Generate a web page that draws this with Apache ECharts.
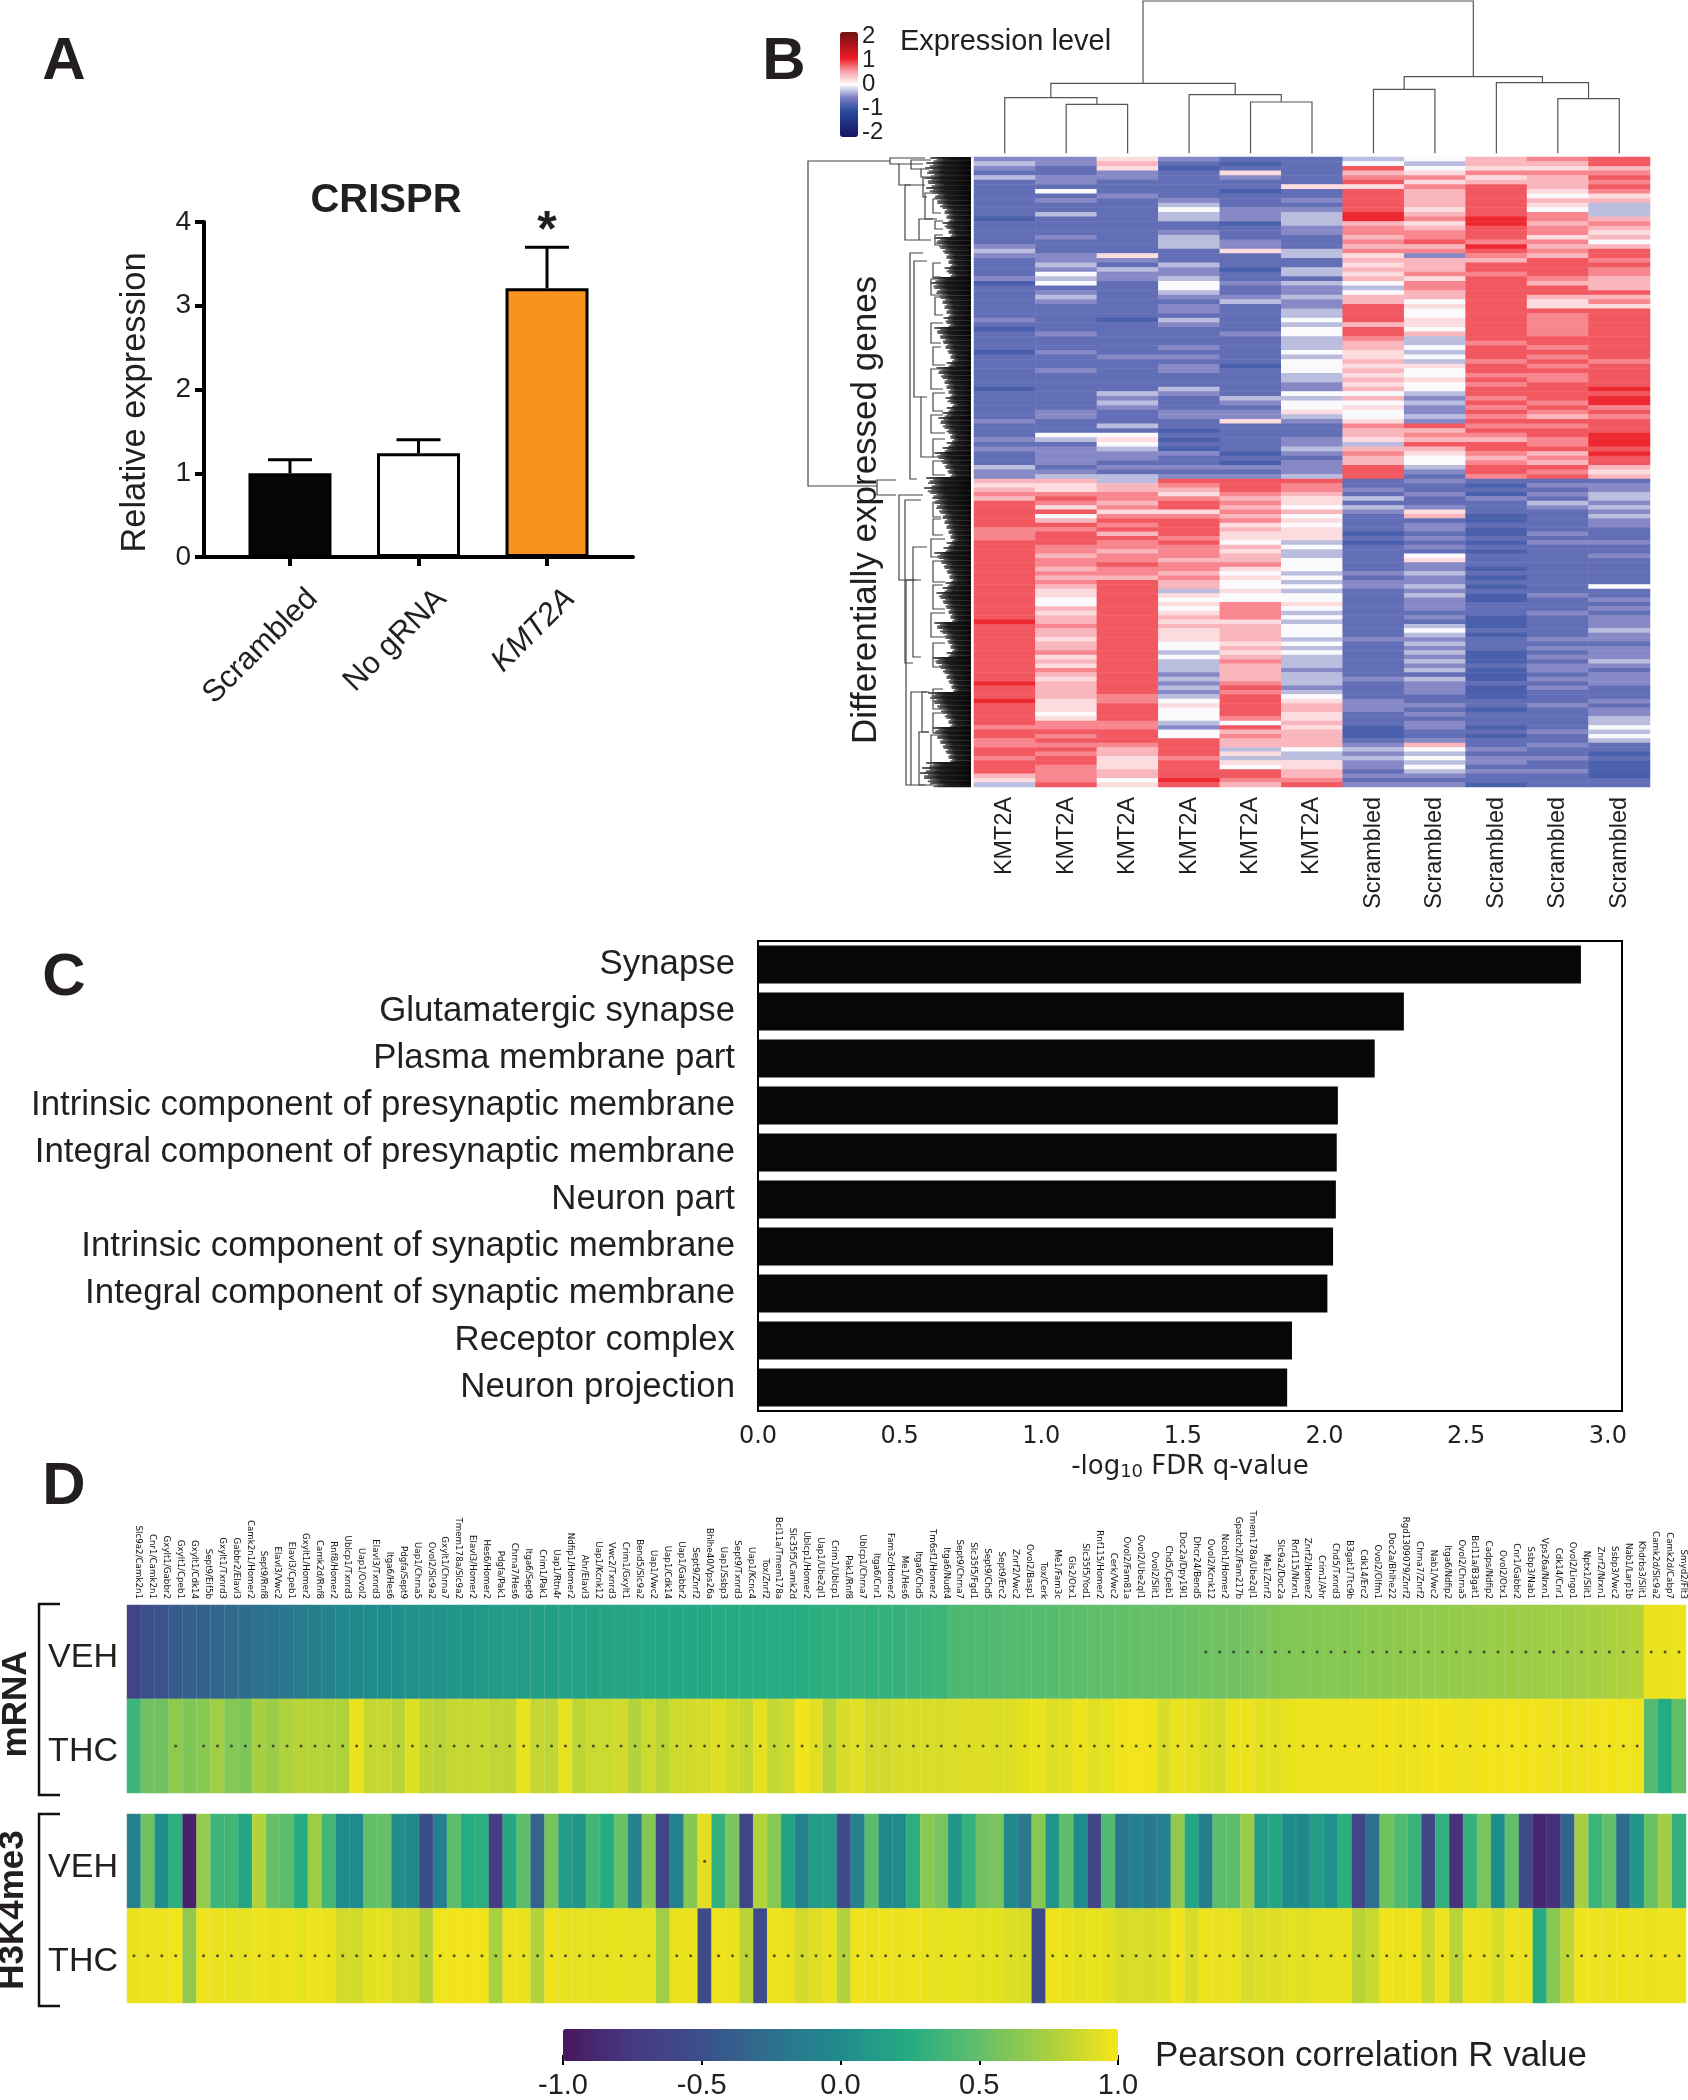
<!DOCTYPE html>
<html><head><meta charset="utf-8">
<style>html,body{margin:0;padding:0;background:#fff}#c{width:1688px;height:2100px}</style>
<script src="https://cdn.jsdelivr.net/npm/echarts@6/dist/echarts.min.js"></script>
</head><body><div id="c"></div>
<script>
// ---------- Panel A
const crisprGroups = ['Scrambled', 'No gRNA', 'KMT2A'];
const crisprValues = [1.0, 1.24, 3.21];
const crisprErrorTop = [1.16, 1.40, 3.70];
const crisprColors = ['#040608', '#ffffff', '#F7931E'];

// ---------- Panel B : one digit per row, 0 (deep blue) .. 9 (deep red)
const digitLevels = [-0.88, -0.72, -0.5, -0.28, -0.02, 0.2, 0.42, 0.66, 0.85, 1.05];
const sampleLabels = ['KMT2A','KMT2A','KMT2A','KMT2A','KMT2A','KMT2A','Scrambled','Scrambled','Scrambled','Scrambled','Scrambled'];
const upperCluster = [
 '2321311111 1110111112 3211112011 1111121011 1101111111 0111111211 1212111322',
 '2211221412 1131111211 1223243412 3211111121 1121112111 1111122111 4312222123',
 '5652211121 1111111111 1521322111 1111101111 1112111111 1323211131 4543221213',
 '2101111112 3433112333 1113223443 2122132111 1212122111 3211122110 1010211212',
 '1015211011 1222011122 5111011211 2311111121 1111101111 1132122511 1111010212',
 '1111115112 1233322111 3311331322 3223343443 3343444332 2434453211 1223212223',
 '3486785888 8899677676 7565656434 6688886887 6655656565 6464544576 6536766888',
 '4345757666 6567567786 7266675776 6454455463 3434354454 4323223286 7686544321',
 '6657568888 8889988879 8768878888 8888888888 7888788787 8878787878 7688767887',
 '7657666546 5477677576 7688887688 6558777778 8787878778 8887876878 8778676878',
 '8867878756 3336765646 8878776668 6758888888 8888788888 9899787888 9998988656'];
const lowerCluster = [
 '6567688888 8777888888 8888888888 8898888888 8888889888 9888887887 7887888653',
 '6557875846 8788877677 6767655446 5667665667 5657656666 5554577878 7878877778',
 '3667767578 7868776778 7768888888 8888888888 8888888887 7888877888 7665556645',
 '8765788578 8887877767 7676635454 5656555443 4333232323 4544432448 8887888898',
 '8887676767 5655465667 5454454477 7756666565 6766667878 8888748676 6353548876',
 '8776554645 4555343344 4343434454 3434443434 3332333234 5665565666 6433556678',
 '1121313211 1101011111 1212211111 1111112111 1111121111 2221110001 2323221212',
 '2112112561 2212121452 2322323222 1213432323 2323132221 1212122112 6434343212',
 '1010211100 1001010111 0101010011 1000101110 0010001000 1101110101 1212212110',
 '1212132111 1121211111 1111112111 2111112121 2122121211 1211111211 2112112111',
 '1223323232 2111211211 1111411212 1222322122 2321222111 2122334343 1101000011'];
// column dendrogram: [leftLeaf, rightLeaf, leftHeight, rightHeight, joinHeight]
const columnLinks = [[1,2,0,0,147],[0,1.5,0,147,167],[4,5,0,0,154],[3,4.5,0,154,176],[0.75,3.75,167,176,210],
 [6,7,0,0,192],[9,10,0,0,164],[8,9.5,0,164,212],[6.5,8.75,192,212,230],[2.25,7.625,210,230,457]];
// row dendrogram: [topRow, bottomRow, topHeight, bottomHeight, joinHeight]
const rowLinks = [[4,329,81,94,163],[323,338,75,75,94],[1,7,46,72,81],[7,28,48,60,72],[3,12,40,50,60],[12,20,42,48,50],
 [20,40,38,44,48],[28,83,46,52,66],[36,62,32,38,46],[62,83,34,40,52],[96,322,48,54,61],[104,240,44,50,57],[240,300,44,38,50],
 [42,56,30,30,38],[64,72,28,28,36],[78,88,28,30,36],[106,120,30,30,38],[122,138,30,28,40],[140,158,26,28,36],[166,186,28,30,40],
 [190,208,30,26,38],[212,232,28,28,40],[236,254,26,28,38],[258,276,28,26,40],[282,300,26,26,38],[304,318,28,26,38],
 [338,423,48,56,72],[343,506,50,58,66],[423,628,50,60,65],[390,500,44,50,58],[535,628,44,46,60],[535,575,42,42,49],[575,628,42,40,52],
 [345,360,28,30,38],[362,378,30,28,38],[382,400,26,28,40],[404,425,26,26,38],[428,452,28,26,38],[456,480,26,26,40],[486,510,26,26,38],
 [532,552,28,26,38],[556,576,26,26,38],[578,610,26,28,40],[612,628,30,30,40]];
const leafDepths = [40,44,45,43,46,42,44,38,36,33,28,26,24,28,24,22,36,34,30,26,24,22,26,22,38,40,36,34,30,28,26,24,27,24,
 36,33,30,27,25,22,20,24,34,32,28,26,24,22,25,20,24,28,32,30,26,22,20,24,28,36,32,28,25,22,
 44,42,46,40,38,36,34,30,28,26,24,22,20,24,27,36,32,29,26,23,21,25,28,34,30,27,24,22,20,36,33,28,25,22,20,24,
 38,34,30,26,24,21,19,42,40,36,32,28,24,22,38,36,33,30,27,24,22,44,48,50,46,40];
const expressionTicks = [-2,-1,0,1,2];

// ---------- Panel C
const goTerms = ['Synapse','Glutamatergic synapse','Plasma membrane part','Intrinsic component of presynaptic membrane',
 'Integral component of presynaptic membrane','Neuron part','Intrinsic component of synaptic membrane',
 'Integral component of synaptic membrane','Receptor complex','Neuron projection'];
const goValues = [2.905,2.28,2.177,2.047,2.043,2.04,2.03,2.01,1.885,1.868];
const goTicks = [0,0.5,1,1.5,2,2.5,3];

// ---------- Panel D
const genePairs = ['Slc9a2/Camk2n1','Cnr1/Camk2n1','Gxylt1/Gabbr2','Gxylt1/Cpeb1','Gxylt1/Cdk14','Sept9/Eif5b','Gxylt1/Txnrd3','Gabbr2/Elavl3','Camk2n1/Homer2','Sept9/Rnf8',
 'Elavl3/Vwc2','Elavl3/Cpeb1','Gxylt1/Homer2','Camk2d/Rnf8','Rnf8/Homer2','Ublcp1/Txnrd3','Uap1/Ovol2','Elavl3/Txnrd3','Itga6/Hes6','Pdgfa/Sept9',
 'Uap1/Chrna5','Ovol2/Slc9a2','Gxylt1/Chrna7','Tmem178a/Slc9a2','Elavl3/Homer2','Hes6/Homer2','Pdgfa/Pak1','Chrna7/Hes6','Itga6/Sept9','Crim1/Pak1',
 'Uap1/Rtn4r','Ndfip1/Homer2','Ahr/Elavl3','Uap1/Kcnk12','Vwc2/Txnrd3','Crim1/Gxylt1','Bend5/Slc9a2','Uap1/Vwc2','Uap1/Cdk14','Uap1/Gabbr2',
 'Sept9/Znrf2','Bhlhe40/Vps26a','Uap1/Ssbp3','Sept9/Txnrd3','Uap1/Kcnc4','Tox/Znrf2','Bcl11a/Tmem178a','Slc35f5/Camk2d','Ublcp1/Homer2','Uap1/Ube2ql1',
 'Crim1/Ublcp1','Pak1/Rnf8','Ublcp1/Chrna7','Itga6/Cnr1','Fam3c/Homer2','Me1/Hes6','Itga6/Chd5','Tm6sf1/Homer2','Itga6/Nudt4','Sept9/Chrna7',
 'Slc35f5/Fgd1','Sept9/Chd5','Sept9/Erc2','Znrf2/Vwc2','Ovol2/Basp1','Tox/Cerk','Me1/Fam3c','Gls2/Otx1','Slc35f5/Yod1','Rnf115/Homer2',
 'Cerk/Vwc2','Ovol2/Fam81a','Ovol2/Ube2ql1','Ovol2/Slit1','Chd5/Cpeb1','Doc2a/Dpy19l1','Dhcr24/Bend5','Ovol2/Kcnk12','Ncoh1/Homer2','Gpatch2l/Fam217b',
 'Tmem178a/Ube2ql1','Me1/Znrf2','Slc9a2/Doc2a','Rnf115/Nrxn1','Znrf2/Homer2','Crim1/Ahr','Chd5/Txnrd3','B3gat1/Ttc9b','Cdk14/Erc2','Ovol2/Olfm1',
 'Doc2a/Bhlhe22','Rgd1309079/Znrf2','Chrna7/Znrf2','Nab1/Vwc2','Itga6/Ndfip2','Ovol2/Chrna5','Bcl11a/B3gat1','Cadps/Ndfip2','Ovol2/Otx1','Cnr1/Gabbr2',
 'Ssbp3/Nab1','Vps26a/Nrxn1','Cdk14/Cnr1','Ovol2/Lingo1','Nptx1/Slit1','Znrf2/Nrxn1','Ssbp3/Vwc2','Nab1/Larp1b','Khdrbs3/Slit1','Camk2d/Slc9a2',
 'Camk2d/Cabp7','Smyd2/Flt3'];
const conditions = ['VEH','THC'];
const mrnaVeh = [-.63,-.5,-.46,-.41,-.38,-.36,-.33,-.3,-.28,-.24,
 -.22,-.19,-.16,-.12,-.07,-.04,-.02,0,.01,.03,
 .04,.05,.06,.08,.09,.1,.11,.12,.13,.14,
 .15,.16,.17,.18,.19,.19,.2,.2,.21,.21,
 .22,.22,.23,.23,.24,.24,.25,.25,.26,.27,
 .28,.29,.3,.3,.31,.32,.33,.34,.35,.41,
 .42,.42,.43,.44,.45,.45,.46,.47,.48,.49,
 .5,.5,.51,.51,.52,.52,.53,.54,.55,.55,
 .56,.58,.6,.61,.62,.62,.63,.63,.64,.65,
 .65,.66,.66,.67,.67,.68,.68,.69,.69,.7,
 .7,.71,.72,.72,.73,.74,.75,.76,.78,.96,
 .96,.97];
const mrnaThc = [.35,.55,.55,.66,.6,.64,.72,.62,.6,.74,
 .7,.77,.8,.79,.78,.77,.96,.84,.84,.8,
 .92,.82,.8,.84,.84,.85,.82,.82,.96,.84,
 .82,.95,.82,.86,.86,.88,.78,.86,.8,.87,
 .88,.89,.92,.88,.84,.94,.83,.87,.98,.93,
 .8,.9,.93,.88,.88,.9,.9,.9,.9,.91,
 .92,.92,.91,.92,.94,.96,.92,.93,.97,.93,
 .95,.98,.98,.98,.9,.96,.95,.92,.9,.96,
 .97,.94,.94,.96,.97,.97,.97,.97,.97,.97,
 .98,.97,.97,.98,.98,.97,.97,.98,.98,.98,
 .98,.98,.97,.97,.97,.98,.98,.98,.97,.44,
 .24,.5];
const h3Veh = [-.1,.55,.02,.28,-.92,.68,.35,.37,.2,.78,
 .52,.47,.24,.7,.38,0,0,.5,.52,.03,
 -.02,-.52,-.1,.48,.25,.28,-.72,.22,.48,-.35,
 .57,.12,.08,.38,.25,.52,-.08,.62,-.62,-.1,
 .62,.93,.3,.58,-.62,.78,.63,.18,-.08,.12,
 .12,-.55,-.08,.47,-.02,0,.28,.65,.58,.08,
 .32,.55,.58,-.02,-.18,.63,.06,.48,0,-.6,
 .43,-.2,-.08,-.18,-.08,.66,.2,-.12,.47,.47,
 .7,.13,.2,0,-.02,.12,.04,.28,-.62,-.25,
 .55,.43,.33,-.6,.3,-.8,.32,.58,.02,.5,
 -.55,-.9,-.82,-.33,.74,.34,.5,-.27,.08,.52,
 .72,.3];
const h3Thc = [.96,.97,.97,.98,.66,.97,.96,.96,.95,.97,
 .96,.97,.95,.97,.96,.88,.88,.94,.94,.9,
 .9,.78,.98,.98,.98,.98,.75,.97,.96,.78,
 .97,.96,.95,.94,.95,.96,.95,.95,.72,.96,
 .96,-.55,.97,.96,.8,-.55,.97,.96,.88,.92,
 .96,.78,.98,.96,.97,.96,.97,.96,.95,.96,
 .95,.94,.94,.92,.9,-.55,.97,.96,.94,.96,
 .94,.9,.9,.9,.92,.98,.9,.97,.96,.96,
 .9,.92,.92,.94,.93,.95,.95,.96,.8,.85,
 .97,.96,.97,.86,.97,.8,.97,.96,.9,.97,
 .96,.24,.63,.82,.98,.97,.96,.97,.97,.96,
 .97,.97];
const mrnaVehStarFrom = 77;
const mrnaThcNoStar = [0,1,2,4,109,110,111];
const h3VehStar = [41];
const h3ThcNoStar = [4,38,41,45,65,101,102];

// ---------- helpers
const SANS = '"Liberation Sans", Arial, sans-serif', DEJA = '"DejaVu Sans", sans-serif', INK = '#231f20';
const decode = cols => { const c = cols.map(s => s.replace(/ /g, '')), out = [];
  c.forEach((s, x) => [...s].forEach((d, y) => out.push([x, y, digitLevels[+d]]))); return out; };
const rowCats = cols => [...cols[0].replace(/ /g, '')].map((_, i) => String(i));
const twoRows = (a, b) => a.map((v, x) => [x, 0, v]).concat(b.map((v, x) => [x, 1, v]));
const hidden = (extra) => Object.assign({show:false}, extra);
const linkItem = color => (p, api) => {
  const a = api.value(0), b = api.value(1), ha = api.value(2), hb = api.value(3), h = api.value(4);
  const isRow = p.seriesName === 'rows';
  const pt = isRow ? (pos, ht) => api.coord([ht, pos]) : (pos, ht) => api.coord([pos, ht]);
  return {type:'polyline', shape:{points:[pt(a, ha), pt(a, h), pt(b, h), pt(b, hb)]},
    style:{stroke:color, fill:'none', lineWidth:1.2}};
};

const rowStep = 630 / leafDepths.length;
const grids = [
 {left:204, top:222, width:429, height:335},
 {left:974, top:0, width:676, height:153.33},
 {left:808, top:157, width:163, height:630},
 {left:974, top:157, width:676, height:322},
 {left:974, top:479, width:676, height:308},
 {left:840, top:32, width:18, height:105},
 {left:758, top:941, width:864, height:470, show:true, borderColor:'#000', borderWidth:2},
 {left:127, top:1605, width:1559, height:188},
 {left:127, top:1814, width:1559, height:189},
 {left:563, top:2029, width:555, height:32}
];
const catRich = {padding:[17,0,0,0], fontFamily:SANS, fontSize:31, color:INK};
const xAxes = [
 {gridIndex:0, type:'value', min:-0.669, max:2.669, splitLine:{show:false},
  axisLine:{onZero:false, lineStyle:{color:'#000', width:4}},
  axisTick:{customValues:[0,1,2], length:9, lineStyle:{color:'#000', width:4}},
  axisLabel:{customValues:[0,1,2], rotate:45, margin:14, interval:0, verticalAlign:'top',
    formatter:v => (v === 2 ? '{i|' : '{n|') + crisprGroups[v] + '}',
    rich:{n:catRich, i:Object.assign({fontStyle:'italic'}, catRich)}}},
 hidden({gridIndex:1, type:'value', min:-0.5, max:10.5}),
 hidden({gridIndex:2, type:'value', min:0, max:163, inverse:true}),
 hidden({gridIndex:3, type:'category', data:sampleLabels}),
 {gridIndex:4, type:'category', data:sampleLabels, axisLine:{show:false},
  axisTick:{alignWithLabel:true, length:6, lineStyle:{color:'#666', width:1.2}},
  axisLabel:{rotate:90, interval:0, margin:10, fontFamily:SANS, fontSize:23.4, color:INK}},
 hidden({gridIndex:5, type:'value', min:0, max:1}),
 {gridIndex:6, type:'value', min:0, max:3.05, splitLine:{show:false},
  axisLine:{lineStyle:{color:'#000', width:3}},
  axisTick:{customValues:goTicks, length:6, lineStyle:{color:'#000', width:1.5}},
  axisLabel:{customValues:goTicks, margin:14, fontFamily:DEJA, fontSize:24, color:INK, formatter:v => v.toFixed(1)},
  name:'{a|-log}{s|10}{a| FDR q-value}', nameLocation:'middle', nameGap:42,
  nameTextStyle:{rich:{a:{fontFamily:DEJA, fontSize:26, color:INK}, s:{fontFamily:DEJA, fontSize:18, color:INK, verticalAlign:'bottom', padding:[10,0,0,0]}}}},
 {gridIndex:7, type:'category', position:'top', data:genePairs, axisLine:{show:false},
  axisTick:{alignWithLabel:true, length:3, lineStyle:{color:'#444', width:1}},
  axisLabel:{rotate:90, interval:0, margin:6, verticalAlign:'bottom', fontFamily:DEJA, fontSize:8.7, color:'#111'}},
 hidden({gridIndex:8, type:'category', data:genePairs}),
 {gridIndex:9, type:'value', min:-1, max:1, interval:0.5, splitLine:{show:false}, axisLine:{show:false},
  axisTick:{length:10, lineStyle:{color:'#000', width:2}},
  axisLabel:{margin:16, fontFamily:SANS, fontSize:29, color:INK, formatter:v => v.toFixed(1)}}
];
const condAxis = i => ({gridIndex:i, type:'category', inverse:true, data:conditions, axisLine:{show:false}, axisTick:{show:false},
  axisLabel:{margin:9, formatter:v => '{c|' + v + '}', rich:{c:{fontFamily:SANS, fontSize:34, color:INK, padding:[12,0,0,0]}}}});
const yAxes = [
 {gridIndex:0, type:'value', min:0, max:4, interval:1, splitLine:{show:false},
  axisLine:{onZero:false, lineStyle:{color:'#000', width:4}}, axisTick:{length:9, lineStyle:{color:'#000', width:4}},
  axisLabel:{margin:13, fontFamily:SANS, fontSize:28, color:INK},
  name:'Relative expression', nameLocation:'middle', nameGap:51, nameTextStyle:{fontFamily:SANS, fontSize:34.4, color:INK, padding:[0,26,0,0]}},
 hidden({gridIndex:1, type:'value', min:0, max:460}),
 hidden({gridIndex:2, type:'value', min:0, max:630, inverse:true}),
 hidden({gridIndex:3, type:'category', inverse:true, data:rowCats(upperCluster)}),
 hidden({gridIndex:4, type:'category', inverse:true, data:rowCats(lowerCluster)}),
 {gridIndex:5, type:'value', position:'right', min:-2.2, max:2.2, splitLine:{show:false}, axisLine:{show:false},
  axisTick:{customValues:expressionTicks, length:5, lineStyle:{color:'#444', width:1.5}},
  axisLabel:{customValues:expressionTicks, margin:4, fontFamily:SANS, fontSize:24, color:INK}},
 {gridIndex:6, type:'category', inverse:true, data:goTerms, axisLine:{show:false}, axisTick:{show:false},
  axisLabel:{interval:0, margin:23, fontFamily:SANS, fontSize:34.8, color:INK}},
 condAxis(7), condAxis(8),
 hidden({gridIndex:9, type:'value', min:0, max:1})
];
const stars = (x, y, data) => ({type:'scatter', xAxisIndex:x, yAxisIndex:y, data, symbol:'circle', symbolSize:3,
  itemStyle:{color:'#2b2b2b'}, silent:true, z:5});
const cellBorder = {borderColor:'rgba(255,255,255,0.16)', borderWidth:0.6};
const all = genePairs.map((_, i) => i);
const combFill = new echarts.graphic.LinearGradient(0, 0, 1, 0, [{offset:0, color:'#6a6a6a'}, {offset:0.3, color:'#1c1c1c'}, {offset:1, color:'#080808'}]);
const series = [
 {type:'bar', xAxisIndex:0, yAxisIndex:0, barWidth:83,
  data:crisprValues.map((v, i) => ({value:[i, v], itemStyle:{color:crisprColors[i], borderColor:'#000', borderWidth:3}}))},
 {type:'custom', xAxisIndex:0, yAxisIndex:0, encode:{x:0, y:[1,2]},
  data:crisprValues.map((v, i) => [i, v, crisprErrorTop[i]]),
  renderItem:(p, api) => { const a = api.coord([api.value(0), api.value(1)]), b = api.coord([api.value(0), api.value(2)]);
    const s = {stroke:'#000', lineWidth:3};
    return {type:'group', children:[{type:'line', shape:{x1:a[0], y1:a[1], x2:b[0], y2:b[1]}, style:s},
      {type:'line', shape:{x1:b[0]-22, y1:b[1], x2:b[0]+22, y2:b[1]}, style:s}]}; }},
 {type:'custom', name:'cols', xAxisIndex:1, yAxisIndex:1, encode:{x:[0,1], y:[2,3,4]}, data:columnLinks, renderItem:linkItem('#555')},
 {type:'custom', name:'rows', xAxisIndex:2, yAxisIndex:2, encode:{x:[2,3,4], y:[0,1]}, data:rowLinks, renderItem:linkItem('#444')},
 {type:'custom', xAxisIndex:2, yAxisIndex:2, encode:{x:1, y:0}, data:leafDepths.map((d, i) => [i * rowStep, d]),
  renderItem:(p, api) => { const d = api.value(1), y = api.value(0);
    const strands = [1.02, 0.86, 0.94].map((f, k) => {
      const a = api.coord([d * f, y + k * rowStep / 3]), b = api.coord([0, y + (k + 1) * rowStep / 3]);
      return {type:'rect', shape:{x:a[0], y:a[1], width:b[0]-a[0], height:b[1]-a[1]+0.3}, style:{fill:combFill}};
    });
    return {type:'group', children:strands}; }},
 {type:'heatmap', xAxisIndex:3, yAxisIndex:3, data:decode(upperCluster), silent:true},
 {type:'heatmap', xAxisIndex:4, yAxisIndex:4, data:decode(lowerCluster), silent:true},
 {type:'bar', xAxisIndex:6, yAxisIndex:6, data:goValues, barWidth:38, itemStyle:{color:'#060709'}},
 {type:'heatmap', xAxisIndex:7, yAxisIndex:7, data:twoRows(mrnaVeh, mrnaThc), itemStyle:cellBorder, silent:true},
 stars(7, 7, all.filter(i => i >= mrnaVehStarFrom).map(i => [i, 0]).concat(all.filter(i => !mrnaThcNoStar.includes(i)).map(i => [i, 1]))),
 {type:'heatmap', xAxisIndex:8, yAxisIndex:8, data:twoRows(h3Veh, h3Thc), itemStyle:cellBorder, silent:true},
 stars(8, 8, h3VehStar.map(i => [i, 0]).concat(all.filter(i => !h3ThcNoStar.includes(i)).map(i => [i, 1])))
];
const txt = (text, x, y, size, o) => ({type:'text', x, y, rotation:(o && o.rot) || 0, z:20, silent:true,
  style:{text, font:((o && o.weight) || 'normal') + ' ' + size + 'px ' + SANS, fill:INK, align:(o && o.align) || 'center', verticalAlign:'middle'}});
const bracket = (top, bottom) => ({type:'polyline', z:20, silent:true,
  shape:{points:[[60,top],[39,top],[39,bottom],[60,bottom]]}, style:{stroke:'#111', fill:'none', lineWidth:2.5}});
const option = {
 animation:false, backgroundColor:'#fff',
 grid:grids, xAxis:xAxes, yAxis:yAxes, series,
 visualMap:[
  {type:'continuous', seriesIndex:[5,6], dimension:2, min:-2.2, max:2.2, orient:'vertical', left:840, top:32, padding:0,
   itemWidth:18, itemHeight:105, calculable:false, hoverLink:false, text:null, showLabel:false,
   inRange:{color:['#161464','#1F2F80','#2C4CA0','#7A7DC0','#ffffff','#F9A0A8','#ED1C24','#B01519','#6E1013']}},
  {type:'continuous', seriesIndex:[8,10], dimension:2, min:-1, max:1, orient:'horizontal', left:563, top:2029, padding:0,
   itemWidth:32, itemHeight:555, calculable:false, hoverLink:false, text:null, showLabel:false,
   inRange:{color:['#46185f','#463a82','#3c4f8a','#2d708e','#1f8b8c','#25ac82','#62bf69','#a9d03f','#f7e618']}}
 ],
 graphic:{elements:[
  txt('A', 64, 62, 60, {weight:'bold'}), txt('B', 784, 62, 60, {weight:'bold'}),
  txt('C', 64, 978, 60, {weight:'bold'}), txt('D', 64, 1487, 60, {weight:'bold'}),
  txt('CRISPR', 386, 201, 40, {weight:'bold'}), txt('*', 547, 232, 50, {weight:'bold'}),
  txt('Expression level', 900, 42, 29, {align:'left'}),
  txt('Differentially expressed genes', 866, 510, 35, {rot:Math.PI/2}),
  txt('mRNA', 16, 1704, 35, {rot:Math.PI/2, weight:'bold'}),
  txt('H3K4me3', 13, 1910, 35, {rot:Math.PI/2, weight:'bold'}),
  txt('Pearson correlation R value', 1155, 2056, 35, {align:'left'}),
  bracket(1604, 1795), bracket(1814, 2006)
 ]}
};
echarts.init(document.getElementById('c')).setOption(option);
</script></body></html>
